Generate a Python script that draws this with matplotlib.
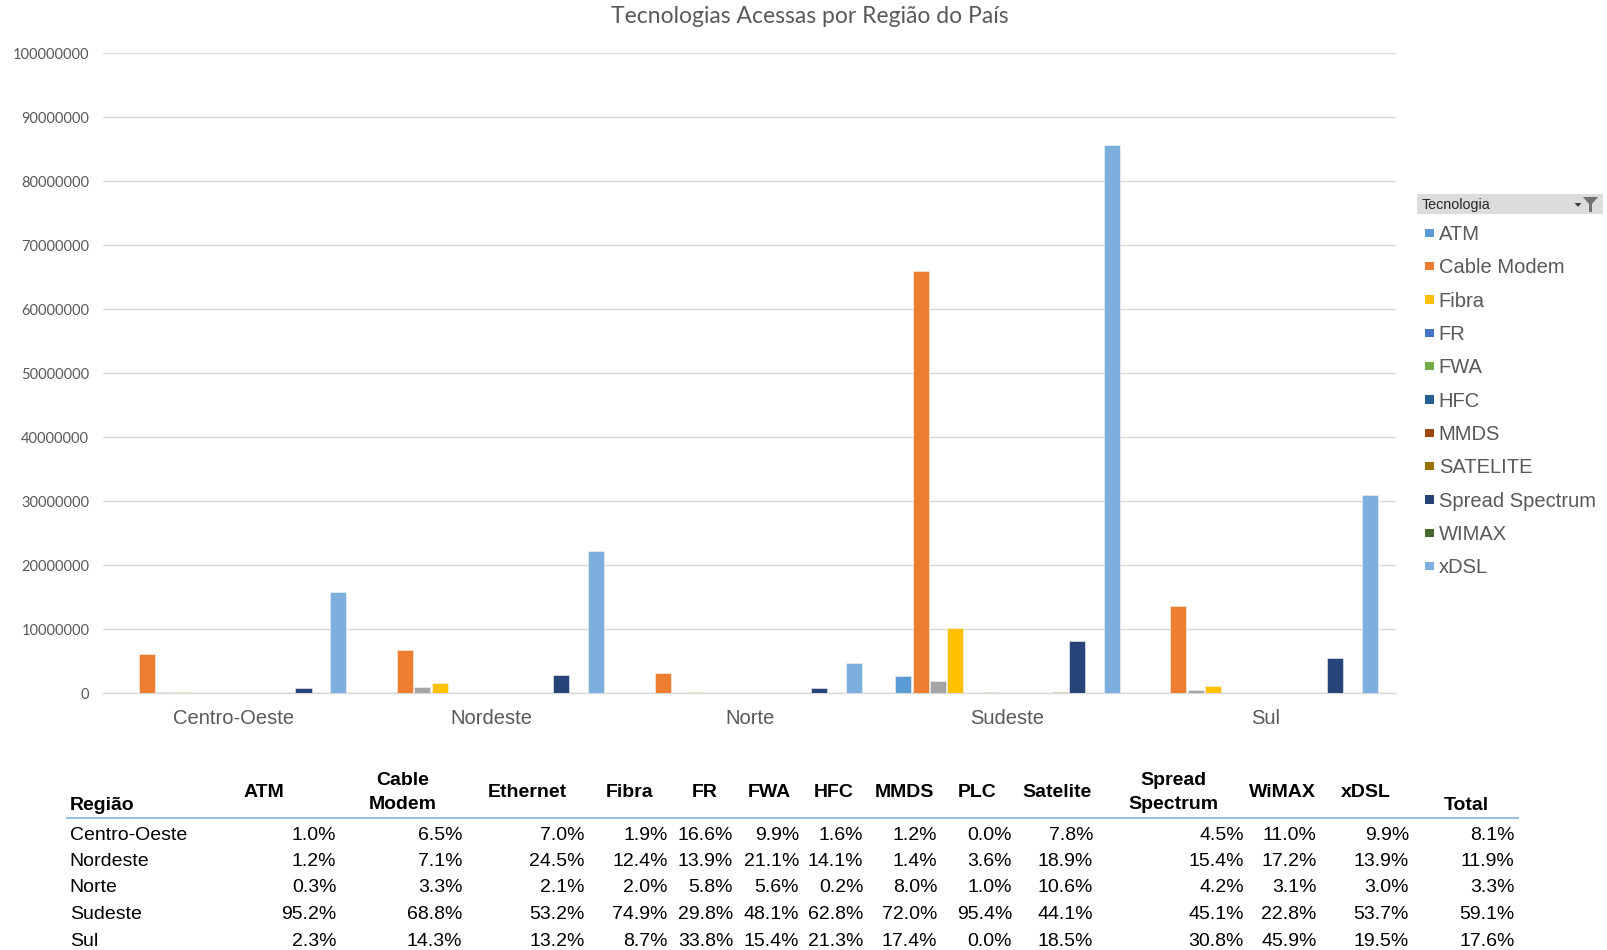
import matplotlib.pyplot as plt
import numpy as np
from matplotlib.patches import Rectangle, Polygon
from matplotlib.lines import Line2D

W, H = 1608, 950

regioes = ['Centro-Oeste', 'Nordeste', 'Norte', 'Sudeste', 'Sul']
tecnologias = ['ATM', 'Cable Modem', 'Ethernet', 'Fibra', 'FR', 'FWA', 'HFC',
               'MMDS', 'PLC', 'SATELITE', 'Spread Spectrum', 'WIMAX', 'xDSL']
cores = ['#5B9BD5', '#ED7D31', '#A5A5A5', '#FFC000', '#4472C4', '#70AD47', '#255E91',
         '#9E480E', '#636363', '#997300', '#264478', '#43682B', '#7CAFDD']

# acessos por tecnologia, na ordem de regioes
atm = [28000, 33000, 8000, 2650000, 64000]
cable_modem = [6200000, 6750000, 3150000, 66000000, 13700000]
ethernet = [260000, 920000, 80000, 2000000, 500000]
fibra = [260000, 1600000, 270000, 10200000, 1180000]
fr = [3300, 2800, 1200, 6000, 6800]
fwa = [51000, 110000, 29000, 250000, 80000]
hfc = [500, 4200, 60, 18800, 6400]
mmds = [60, 70, 400, 3600, 870]
plc = [0, 36, 10, 954, 0]
satelite = [44000, 108000, 60000, 250000, 105000]
spread_spectrum = [820000, 2800000, 760000, 8200000, 5500000]
wimax = [4400, 6900, 1240, 9100, 18400]
xdsl = [15800000, 22200000, 4800000, 85600000, 31000000]

series = [atm, cable_modem, ethernet, fibra, fr, fwa, hfc,
          mmds, plc, satelite, spread_spectrum, wimax, xdsl]

# Ethernet e PLC ficam fora do filtro da legenda
legenda = [t for t in tecnologias if t not in ('Ethernet', 'PLC')]

# tabela de participacao (%) de cada regiao por tecnologia
tab_colunas = ['ATM', 'Cable\nModem', 'Ethernet', 'Fibra', 'FR', 'FWA', 'HFC', 'MMDS',
               'PLC', 'Satelite', 'Spread\nSpectrum', 'WiMAX', 'xDSL', 'Total']
pct_centro_oeste = [1.0, 6.5, 7.0, 1.9, 16.6, 9.9, 1.6, 1.2, 0.0, 7.8, 4.5, 11.0, 9.9, 8.1]
pct_nordeste = [1.2, 7.1, 24.5, 12.4, 13.9, 21.1, 14.1, 1.4, 3.6, 18.9, 15.4, 17.2, 13.9, 11.9]
pct_norte = [0.3, 3.3, 2.1, 2.0, 5.8, 5.6, 0.2, 8.0, 1.0, 10.6, 4.2, 3.1, 3.0, 3.3]
pct_sudeste = [95.2, 68.8, 53.2, 74.9, 29.8, 48.1, 62.8, 72.0, 95.4, 44.1, 45.1, 22.8, 53.7, 59.1]
pct_sul = [2.3, 14.3, 13.2, 8.7, 33.8, 15.4, 21.3, 17.4, 0.0, 18.5, 30.8, 45.9, 19.5, 17.6]
tab_linhas = [pct_centro_oeste, pct_nordeste, pct_norte, pct_sudeste, pct_sul]

CINZA = '#595959'
fig = plt.figure(figsize=(W / 100, H / 100), dpi=100)
fig.patch.set_facecolor('white')


def fx(x):
    return x / W


def fy(y):
    return 1 - y / H


def txt(x, y, s, **kw):
    return fig.text(fx(x), fy(y), s, **kw)


# --- grafico de barras ---
left, right, top, bottom = 102.6, 1395.7, 53.3, 693.3
ax = fig.add_axes([fx(left), fy(bottom), fx(right - left), (bottom - top) / H])

n = len(series)
slot = 0.0675
x = np.arange(len(regioes))
for i, (vals, cor) in enumerate(zip(series, cores)):
    ax.bar(x + (i - (n - 1) / 2) * slot, vals, width=slot * 0.92, color=cor,
           edgecolor='#F4F4F4', linewidth=0.4, zorder=3)

ax.set_xlim(-0.509, 4.505)
ax.set_ylim(0, 100000000)
yt = np.arange(0, 100000001, 10000000)
ax.set_yticks(yt)
ax.set_yticklabels([str(int(v)) for v in yt], family='Lato', fontsize=10.5, color=CINZA)
ax.set_xticks(x)
ax.set_xticklabels(regioes, family='Liberation Sans', fontsize=14.5, color=CINZA)
ax.tick_params(length=0)
ax.tick_params(axis='y', pad=9.6)
ax.tick_params(axis='x', pad=11.5)
ax.yaxis.grid(True, color='#D9D9D9', linewidth=1)
ax.set_axisbelow(True)
for s in ['top', 'right', 'left']:
    ax.spines[s].set_visible(False)
ax.spines['bottom'].set_color('#D9D9D9')
ax.spines['bottom'].set_linewidth(1)

txt(810, 16.5, 'Tecnologias Acessas por Região do País', ha='center', va='center',
    family='Lato', fontsize=16.5, color=CINZA)

# --- legenda com cabecalho de filtro ---
fig.add_artist(Rectangle((fx(1417.3), fy(214.3)), fx(185.6), 20.5 / H,
                         transform=fig.transFigure, facecolor='#DCDCDC', edgecolor='none'))
txt(1422, 205, 'Tecnologia', ha='left', va='center', family='Liberation Sans',
    fontsize=10.3, color='#262626')
funil = [(1583, 197), (1598, 197), (1592, 204), (1592, 212), (1589, 212), (1589, 204)]
fig.add_artist(Polygon([(fx(a), fy(b)) for a, b in funil], closed=True,
                       transform=fig.transFigure, facecolor='#707070', edgecolor='none'))
seta = [(1574.5, 203), (1581.5, 203), (1578, 207)]
fig.add_artist(Polygon([(fx(a), fy(b)) for a, b in seta], closed=True,
                       transform=fig.transFigure, facecolor='#404040', edgecolor='none'))

for k, nome in enumerate(legenda):
    cy = 232.8 + k * 33.33
    cor = cores[tecnologias.index(nome)]
    fig.add_artist(Rectangle((fx(1425.5), fy(cy + 4.1)), fx(8.2), 8.2 / H,
                             transform=fig.transFigure, facecolor=cor, edgecolor='none'))
    txt(1438.8, cy + 7.2, nome, ha='left', va='baseline', family='Liberation Sans',
        fontsize=14.5, color=CINZA)

# --- tabela ---
fonte_tab = 'Liberation Sans'
tam_tab = 14
col_dir = [336.4, 462.5, 584.5, 667.6, 733.2, 798.9, 863.5, 937.3, 1012.2, 1093.2,
           1243.9, 1316.7, 1409.1, 1514.7]
col_centro = [263.6, 403, 527.1, 629.7, 704.5, 769.1, 833.7, 904.5, 977.3, 1057.3,
              1173.2, 1282.9, 1366, 1466.5]
lin_y = [832.7, 858.4, 885, 911.7, 938.3]

txt(69.7, 805, 'Região', ha='left', va='center', family=fonte_tab, fontsize=tam_tab,
    weight='bold', color='black')
for c, cx in zip(tab_colunas, col_centro):
    cy = 805 if c == 'Total' else 792.5
    txt(cx, cy, c, ha='center', va='center', family=fonte_tab, fontsize=tam_tab,
        weight='bold', color='black', linespacing=1.6, multialignment='center')

fig.add_artist(Line2D([fx(66.7), fx(1517.7)], [fy(818.4), fy(818.4)],
                      transform=fig.transFigure, color='#9BC2E6', linewidth=1.5))

for nome, vals, ly in zip(regioes, tab_linhas, lin_y):
    txt(69.7, ly + 7.2, nome, ha='left', va='baseline', family=fonte_tab,
        fontsize=tam_tab, color='black')
    for v, cx in zip(vals, col_dir):
        txt(cx, ly + 7.2, f'{v:.1f}%', ha='right', va='baseline', family=fonte_tab,
            fontsize=tam_tab, color='black')

fig.savefig('out.png', dpi=100)
